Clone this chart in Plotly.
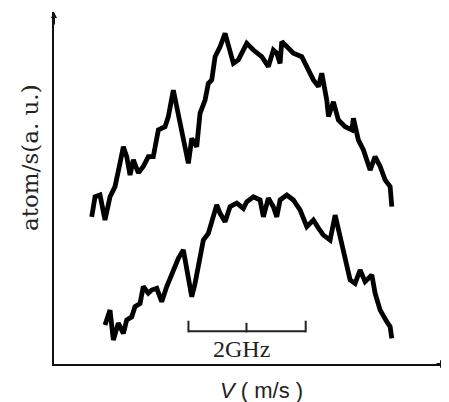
import plotly.graph_objects as go

# Upper trace: frequency (GHz, arbitrary origin) vs. atom flux (a.u.)
upper_x = [0.637, 0.693, 0.777, 0.861, 0.946, 1.030, 1.115, 1.171, 1.228, 1.284, 1.340, 1.424,
           1.508, 1.593, 1.677, 1.762, 1.875, 1.931, 2.015, 2.100, 2.184, 2.269, 2.326, 2.410,
           2.466, 2.551, 2.606, 2.664, 2.720, 2.804, 2.889, 2.944, 3.029, 3.113, 3.198, 3.255,
           3.367, 3.508, 3.620, 3.704, 3.762, 3.818, 3.846, 3.931, 4.042, 4.184, 4.296, 4.380,
           4.465, 4.522, 4.606, 4.635, 4.718, 4.802, 4.916, 5.029, 5.056, 5.140, 5.225, 5.338,
           5.422, 5.507, 5.591, 5.676, 5.704]
upper_y = [4.18, 4.75, 4.80, 4.09, 4.75, 5.04, 5.71, 6.17, 5.89, 5.37, 5.80, 5.43,
           5.61, 5.89, 5.89, 6.65, 6.74, 7.03, 7.78, 7.12, 6.46, 5.70, 6.41, 6.17,
           7.12, 7.50, 7.97, 8.07, 8.73, 9.01, 9.39, 9.01, 8.54, 8.64, 8.92, 9.11,
           8.92, 8.73, 8.45, 8.92, 8.83, 8.54, 9.16, 9.01, 8.83, 8.73, 8.35, 8.07,
           7.88, 8.26, 7.50, 7.03, 7.45, 6.93, 6.74, 6.65, 6.98, 6.36, 6.08, 5.51,
           5.89, 5.61, 5.23, 5.04, 4.47]

# Lower trace
lower_x = [0.861, 0.946, 1.002, 1.086, 1.171, 1.228, 1.313, 1.368, 1.453, 1.508, 1.593, 1.650,
           1.735, 1.819, 1.904, 1.988, 2.100, 2.184, 2.242, 2.326, 2.382, 2.438, 2.522, 2.606,
           2.664, 2.748, 2.804, 2.889, 2.973, 3.086, 3.198, 3.255, 3.367, 3.480, 3.535, 3.620,
           3.704, 3.762, 3.818, 3.931, 4.042, 4.155, 4.269, 4.380, 4.465, 4.549, 4.662, 4.747,
           4.831, 4.916, 5.000, 5.084, 5.169, 5.253, 5.367, 5.422, 5.507, 5.620, 5.676, 5.704]
lower_y = [1.11, 1.53, 0.68, 1.16, 0.87, 1.25, 1.34, 1.63, 1.72, 2.20, 2.01, 2.10,
           2.15, 1.77, 2.20, 2.58, 3.00, 3.24, 2.67, 1.91, 2.29, 2.86, 3.52, 3.71,
           4.00, 4.52, 4.28, 4.04, 4.47, 4.57, 4.42, 4.61, 4.75, 4.66, 4.18, 4.71,
           4.47, 4.18, 4.66, 4.80, 4.66, 4.38, 3.90, 4.09, 3.86, 3.66, 3.52, 4.23,
           3.62, 2.95, 2.39, 2.29, 2.67, 2.34, 2.53, 2.01, 1.53, 1.20, 1.06, 0.73]

# 2 GHz scale bar: start, middle, end (GHz) and its level (a.u.)
scale_bar_x = [2.27, 3.25, 4.25]
scale_bar_y = 0.93
scale_label = "2GHz"

x_range = [0, 6.67]
y_range = [0, 10]

fig = go.Figure()
for xs, ys in [(upper_x, upper_y), (lower_x, lower_y)]:
    fig.add_trace(go.Scatter(x=xs, y=ys, mode="lines",
                             line=dict(color="black", width=4.8),
                             hoverinfo="skip", showlegend=False))

# scale bar line
fig.add_trace(go.Scatter(x=[scale_bar_x[0], scale_bar_x[2]], y=[scale_bar_y, scale_bar_y],
                         mode="lines", line=dict(color="#222", width=2),
                         showlegend=False, hoverinfo="skip"))
for i, sx in enumerate(scale_bar_x):
    top = scale_bar_y + (0.30 if i != 1 else 0.24)
    fig.add_trace(go.Scatter(x=[sx, sx], y=[scale_bar_y - 0.03, top], mode="lines",
                             line=dict(color="#222", width=2),
                             showlegend=False, hoverinfo="skip"))

fig.add_annotation(x=3.16, y=0.44, text=scale_label, xanchor="center", yanchor="middle",
                   showarrow=False, font=dict(family="Liberation Serif", size=24, color="#222"))

# axis titles
fig.add_annotation(xref="paper", yref="paper", x=-0.061, y=0.588, text="atom/s(a. u.)",
                   textangle=-90, showarrow=False, xanchor="center", yanchor="middle",
                   font=dict(family="DejaVu Serif", size=23, color="#222"))
fig.add_annotation(xref="paper", yref="paper", x=0.525, y=-0.074,
                   text="<i>V</i>&nbsp;(&nbsp;m/s&nbsp;)", showarrow=False,
                   xanchor="center", yanchor="middle",
                   font=dict(family="Liberation Sans", size=22, color="#222"))

# arrows at axis ends
fig.add_annotation(xref="paper", yref="paper", x=1.0, y=0, ax=-14, ay=0,
                   text="", showarrow=True, arrowhead=2, arrowsize=0.8, arrowwidth=2,
                   arrowcolor="#111")
fig.add_annotation(xref="paper", yref="paper", x=0, y=1.0, ax=0, ay=14,
                   text="", showarrow=True, arrowhead=2, arrowsize=0.6, arrowwidth=2,
                   arrowcolor="#111")

fig.update_xaxes(range=x_range, showline=True, linecolor="#111", linewidth=2,
                 showgrid=False, zeroline=False, showticklabels=False, ticks="")
fig.update_yaxes(range=y_range, showline=True, linecolor="#111", linewidth=2,
                 showgrid=False, zeroline=False, showticklabels=False, ticks="")

# page body has an 8px margin, so the figure is offset by 8px; compensate here
fig.update_layout(width=441, height=394, margin=dict(l=46, r=0, t=4, b=38),
                  plot_bgcolor="white", paper_bgcolor="white")

fig.write_html("out.html")
